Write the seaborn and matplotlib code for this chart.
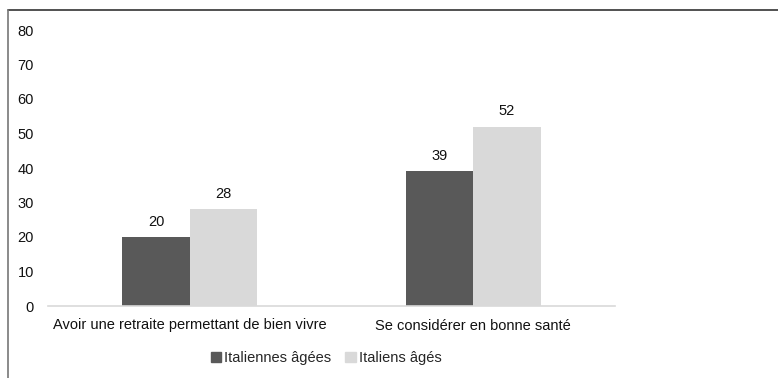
import matplotlib
matplotlib.use("Agg")
import matplotlib.pyplot as plt
from matplotlib.lines import Line2D
import seaborn as sns
import pandas as pd

categories = ["Avoir une retraite permettant de bien vivre", "Se considérer en bonne santé"]
series_names = ["Italiennes âgées", "Italiens âgés"]
italiennes = [20, 39]
italiens = [28, 52]
yticks = [0, 10, 20, 30, 40, 50, 60, 70, 80]

colors = {"Italiennes âgées": "#595959", "Italiens âgés": "#d9d9d9"}

df = pd.DataFrame({
    "categorie": categories * 2,
    "groupe": [series_names[0]] * len(categories) + [series_names[1]] * len(categories),
    "valeur": italiennes + italiens,
})

sns.set_style("white")
plt.rcParams["font.family"] = ["Liberation Sans", "DejaVu Sans"]

fig = plt.figure(figsize=(7.78, 3.78), dpi=100)
ax = fig.add_axes([48 / 778, 1 - 306 / 378, (615 - 48) / 778, (306 - 30) / 378])

sns.barplot(data=df, x="categorie", y="valeur", hue="groupe", hue_order=series_names,
            palette=colors, width=0.475, gap=0, ax=ax, legend=False,
            edgecolor="none", linewidth=0)

ax.set_xlim(-0.5, 1.5)
ax.set_ylim(0, 80)
ax.set_yticks(yticks)
ax.set_xlabel("")
ax.set_ylabel("")
ax.tick_params(axis="y", length=0, pad=10, labelsize=10.5, labelcolor="#111111")
ax.tick_params(axis="x", length=0, pad=9, labelsize=10.5, labelcolor="#111111")
for s in ["left", "right", "top"]:
    ax.spines[s].set_visible(False)
ax.spines["bottom"].set_color("#d9d9d9")
ax.spines["bottom"].set_linewidth(1.2)

for cont in ax.containers:
    ax.bar_label(cont, fmt="%d", padding=6, fontsize=10.5, color="#111111")

handles = [plt.Rectangle((0, 0), 1, 1, color=colors[n]) for n in series_names]
fig.legend(handles, series_names, loc="center", bbox_to_anchor=(326 / 778, 1 - 358 / 378),
           ncol=2, frameon=False, fontsize=10.5, handlelength=0.7, handleheight=0.7,
           handletextpad=0.2, columnspacing=1.0)

# Frame lines along the top and left edges
fig.add_artist(Line2D([8 / 778, 1], [1 - 10 / 378] * 2, transform=fig.transFigure,
                      color="#333333", linewidth=1.2))
fig.add_artist(Line2D([8 / 778] * 2, [0, 1 - 10 / 378], transform=fig.transFigure,
                      color="#777777", linewidth=1.2))

fig.savefig("out.png", dpi=100)
